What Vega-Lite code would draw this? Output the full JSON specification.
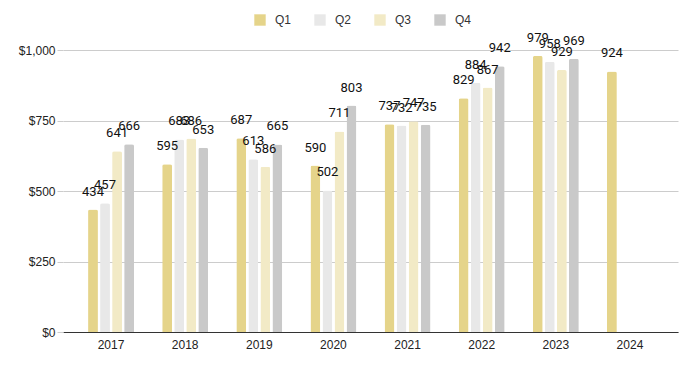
{
  "$schema": "https://vega.github.io/schema/vega-lite/v6.json",
  "width": 615,
  "height": 282,
  "autosize": {"type": "none"},
  "padding": {"left": 63, "top": 50, "right": 20, "bottom": 39},
  "background": "white",
  "config": {
    "view": {"stroke": null},
    "font": "Liberation Sans"
  },
  "data": {
    "values": [
      {"year": "2017", "q": "Q1", "v": 434}, {"year": "2017", "q": "Q2", "v": 457}, {"year": "2017", "q": "Q3", "v": 641}, {"year": "2017", "q": "Q4", "v": 666},
      {"year": "2018", "q": "Q1", "v": 595}, {"year": "2018", "q": "Q2", "v": 683}, {"year": "2018", "q": "Q3", "v": 686}, {"year": "2018", "q": "Q4", "v": 653},
      {"year": "2019", "q": "Q1", "v": 687}, {"year": "2019", "q": "Q2", "v": 613}, {"year": "2019", "q": "Q3", "v": 586}, {"year": "2019", "q": "Q4", "v": 665},
      {"year": "2020", "q": "Q1", "v": 590}, {"year": "2020", "q": "Q2", "v": 502}, {"year": "2020", "q": "Q3", "v": 711}, {"year": "2020", "q": "Q4", "v": 803},
      {"year": "2021", "q": "Q1", "v": 737}, {"year": "2021", "q": "Q2", "v": 732}, {"year": "2021", "q": "Q3", "v": 747}, {"year": "2021", "q": "Q4", "v": 735},
      {"year": "2022", "q": "Q1", "v": 829}, {"year": "2022", "q": "Q2", "v": 884}, {"year": "2022", "q": "Q3", "v": 867}, {"year": "2022", "q": "Q4", "v": 942},
      {"year": "2023", "q": "Q1", "v": 979}, {"year": "2023", "q": "Q2", "v": 958}, {"year": "2023", "q": "Q3", "v": 929}, {"year": "2023", "q": "Q4", "v": 969},
      {"year": "2024", "q": "Q1", "v": 924}
    ]
  },
  "encoding": {
    "x": {
      "field": "year", "type": "nominal",
      "scale": {"paddingInner": 0.38, "paddingOuter": 0.338},
      "axis": {
        "title": null, "labelAngle": 0, "ticks": false, "domainColor": "#333333",
        "labelFontSize": 12, "labelColor": "#222222", "labelPadding": 7, "grid": false
      }
    },
    "xOffset": {
      "field": "q", "type": "nominal",
      "scale": {"domain": ["Q1", "Q2", "Q3", "Q4"], "paddingInner": 0.18, "paddingOuter": 0}
    },
    "y": {
      "field": "v", "type": "quantitative",
      "scale": {"domain": [0, 1000], "nice": false},
      "axis": {
        "title": null, "values": [0, 250, 500, 750, 1000], "format": "$,.0f",
        "domain": false, "ticks": true, "tickSize": 6, "tickColor": "#cccccc",
        "gridColor": "#cccccc", "labelFontSize": 12, "labelColor": "#222222", "labelPadding": 2
      }
    }
  },
  "layer": [
    {
      "mark": {"type": "bar", "cornerRadiusTopLeft": 2, "cornerRadiusTopRight": 2},
      "encoding": {
        "color": {
          "field": "q", "type": "nominal",
          "scale": {"domain": ["Q1", "Q2", "Q3", "Q4"], "range": ["#e5d48a", "#e8e8e8", "#f2eac6", "#c9c9c9"]},
          "legend": {
            "title": null, "orient": "none", "direction": "horizontal",
            "legendX": 191, "legendY": -36, "symbolType": "square", "symbolSize": 130,
            "symbolStrokeWidth": 0, "labelFontSize": 12, "labelColor": "#333333",
            "columnPadding": 22, "labelOffset": 9
          }
        }
      }
    },
    {
      "mark": {"type": "text", "baseline": "bottom", "dy": -11, "font": "Roboto", "fontSize": 13, "color": "#111111", "clip": false},
      "encoding": {
        "text": {"field": "v", "type": "quantitative"}
      }
    }
  ]
}
